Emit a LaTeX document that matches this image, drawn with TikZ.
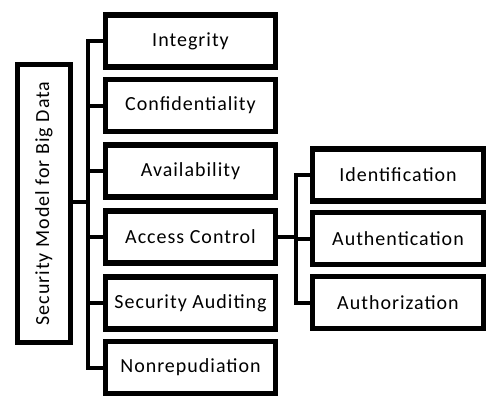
\documentclass[tikz,border=0pt]{standalone}
\usepackage{fontspec}
\setmainfont{Carlito}
\newfontfamily\spacedfont[LetterSpace=5]{Carlito}
\begin{document}
\begin{tikzpicture}[x=1pt,y=-1pt,
  box/.style={draw=black,line width=5.5pt,fill=white,minimum height=52pt,inner sep=0pt,font=\spacedfont\fontsize{20}{24}\selectfont},
  midbox/.style={box,minimum width=170pt},
  subbox/.style={box,minimum width=171pt},
  link/.style={draw=black,line width=4pt}]
\useasboundingbox (0,0) rectangle (487,396);
% root
\node[box,minimum width=53pt,minimum height=278pt] (root) at (44,203.5) {\rotatebox{90}{Security Model for Big Data}};
% first level
\node[midbox] (int) at (190.5,41) {Integrity};
\node[midbox] (con) at (190.5,105.5) {Confidentiality};
\node[midbox] (ava) at (190.5,171) {Availability};
\node[midbox] (acc) at (190.5,237) {Access Control};
\node[midbox] (aud) at (190.5,303) {Security Auditing};
\node[midbox] (non) at (190.5,367.5) {Nonrepudiation};
% second level
\node[subbox] (ide) at (398,175) {Identification};
\node[subbox] (aut) at (398,238.5) {Authentication};
\node[subbox] (aur) at (398,302.5) {Authorization};
% bus coordinates
\coordinate (bus) at (88,0);
\coordinate (bus2) at (296,0);
% root to bus
\draw[link] (root.east |- 0,202) -- (bus |- 0,202);
\draw[link,line cap=rect] (bus |- int) -- (bus |- non);
\foreach \n in {int,con,ava,acc,aud,non}
  \draw[link] (bus |- \n) -- (\n.west);
% access control branch
\draw[link] (acc.east) -- (bus2 |- acc);
\draw[link,line cap=rect] (bus2 |- ide) -- (bus2 |- aur);
\foreach \n in {ide,aut,aur}
  \draw[link] (bus2 |- \n) -- (\n.west);
\end{tikzpicture}
\end{document}
